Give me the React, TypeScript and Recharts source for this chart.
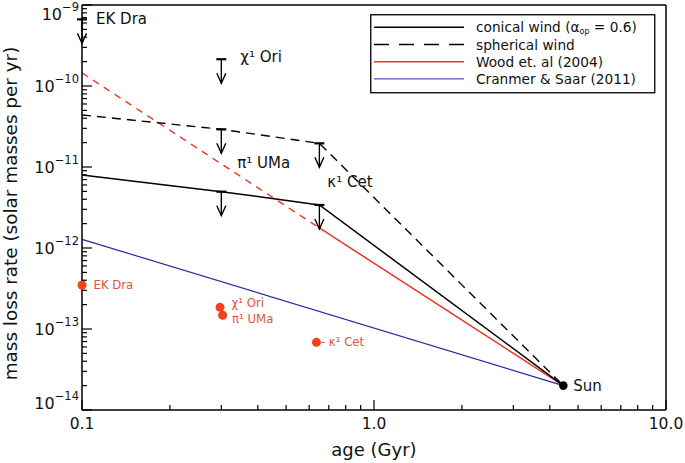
import React from 'react';
import { ComposedChart, Line, Scatter, XAxis, YAxis, Legend } from 'recharts';

// ---------- data (age in Gyr, mass loss rate in solar masses per yr) ----------
const conicalWind = [
  { age: 0.1, rate: 7.96e-12 },
  { age: 0.3, rate: 4.96e-12 },
  { age: 0.65, rate: 3.4e-12 },
  { age: 4.45, rate: 2.0e-14 },
];
const sphericalWind = [
  { age: 0.1, rate: 4.39e-11 },
  { age: 0.3, rate: 2.92e-11 },
  { age: 0.65, rate: 1.96e-11 },
  { age: 4.45, rate: 2.0e-14 },
];
const woodExtrapolated = [
  { age: 0.1, rate: 1.45e-10 },
  { age: 0.65, rate: 1.77e-12 },
];
const woodRelation = [
  { age: 0.65, rate: 1.77e-12 },
  { age: 4.45, rate: 2.0e-14 },
];
const cranmerSaar = [
  { age: 0.1, rate: 1.28e-12 },
  { age: 4.45, rate: 2.0e-14 },
];
const upperLimits = [
  { name: 'EK Dra', age: 0.1, rate: 6.65e-10 },
  { name: 'χ¹ Ori', age: 0.3, rate: 2.14e-10 },
  { name: 'π¹ UMa', age: 0.3, rate: 2.92e-11 },
  { name: '', age: 0.3, rate: 4.96e-12 },
  { name: 'κ¹ Cet', age: 0.65, rate: 1.96e-11 },
  { name: '', age: 0.65, rate: 3.4e-12 },
];
const observedStars = [
  { name: 'EK Dra', age: 0.1, rate: 3.49e-13 },
  { name: 'χ¹ Ori', age: 0.297, rate: 1.85e-13 },
  { name: 'π¹ UMa', age: 0.303, rate: 1.48e-13 },
  { name: '- κ¹ Cet', age: 0.635, rate: 6.85e-14 },
];
const sunPoint = [{ name: 'Sun', age: 4.45, rate: 2.0e-14 }];

const xMajorTicks = [0.1, 1, 10];
const xTickLabels = ['0.1', '1.0', '10.0'];
const xMinorTicks = [0.2, 0.3, 0.4, 0.5, 0.6, 0.7, 0.8, 0.9, 2, 3, 4, 5, 6, 7, 8, 9];
const yExponents = [-14, -13, -12, -11, -10, -9];
const yMinorMultipliers = [2, 3, 4, 5, 6, 7, 8, 9];

const legendItems = [
  { key: 'conical', label: 'conical wind', color: '#000000', dash: undefined, width: 1.5 },
  { key: 'spherical', label: 'spherical wind', color: '#000000', dash: '15 10', width: 1.5 },
  { key: 'wood', label: 'Wood et. al (2004)', color: '#ee3224', dash: undefined, width: 1.5 },
  { key: 'cranmer', label: 'Cranmer & Saar (2011)', color: '#2828a0', dash: undefined, width: 1 },
];

// ---------- derived tick arrays ----------
const xTicks = [...xMajorTicks, ...xMinorTicks].sort((a, b) => a - b);
const yMajorTicks = yExponents.map((e) => Math.pow(10, e));
const yTicks: number[] = [];
yExponents.forEach((e, i) => {
  yTicks.push(Math.pow(10, e));
  if (i < yExponents.length - 1) yMinorMultipliers.forEach((m) => yTicks.push(m * Math.pow(10, e)));
});

// ---------- styles ----------
const FONT = '"DejaVu Sans", Verdana, sans-serif';
const INK = '#111111';
const RED = '#ee3224';
const BLUE = '#2828a0';
const DOT_RED = '#f2411d';
const LABEL_RED = '#d9553c';
const MAJOR_LEN = 10;
const MINOR_LEN = 5;

const limitLabelOffsets: Record<string, [number, number]> = {
  'EK Dra': [14, 0],
  'χ¹ Ori': [19, -2],
  'π¹ UMa': [16, 34],
  'κ¹ Cet': [8, 39],
};
const starLabelOffsets: Record<string, [number, number]> = {
  'EK Dra': [11.5, 0],
  'χ¹ Ori': [11.5, -4],
  'π¹ UMa': [9.5, 4],
  '- κ¹ Cet': [4.5, 0],
};

const isMajorX = (v: number) => xMajorTicks.some((m) => Math.abs(m - v) < 1e-9);
const isMajorY = (v: number) => yMajorTicks.some((m) => Math.abs(m - v) / m < 1e-6);

// ---------- tick renderers ----------
const BottomTick = (props: any) => {
  const { x, y, payload } = props;
  const v = payload.value;
  const major = isMajorX(v);
  const idx = xMajorTicks.findIndex((m) => Math.abs(m - v) < 1e-9);
  return (
    <g>
      <line x1={x} x2={x} y1={y} y2={y - (major ? MAJOR_LEN : MINOR_LEN)} stroke="#000" strokeWidth={1.2} />
      {major && (
        <text x={x} y={y + 19} textAnchor="middle" fontSize={15.5} fontFamily={FONT} fill={INK}>
          {xTickLabels[idx]}
        </text>
      )}
    </g>
  );
};
const TopTick = (props: any) => {
  const { x, y, payload } = props;
  const major = isMajorX(payload.value);
  return <line x1={x} x2={x} y1={y} y2={y + (major ? MAJOR_LEN : MINOR_LEN)} stroke="#000" strokeWidth={1.2} />;
};
const LeftTick = (props: any) => {
  const { x, y, payload } = props;
  const v = payload.value;
  const major = isMajorY(v);
  const exp = Math.round(Math.log10(v));
  let shift = 0;
  if (exp === yExponents[yExponents.length - 1]) shift = 9;
  if (exp === yExponents[0]) shift = -7;
  return (
    <g>
      <line x1={x} x2={x + (major ? MAJOR_LEN : MINOR_LEN)} y1={y} y2={y} stroke="#000" strokeWidth={1.2} />
      {major && (
        <text x={x - 3} y={y + shift + 5.8} textAnchor="end" fontSize={16} fontFamily={FONT} fill={INK}>
          10
          <tspan fontSize={11.5} dy={-8.5}>{`\u2212${Math.abs(exp)}`}</tspan>
        </text>
      )}
    </g>
  );
};
const RightTick = (props: any) => {
  const { x, y, payload } = props;
  const major = isMajorY(payload.value);
  return <line x1={x} x2={x - (major ? MAJOR_LEN : MINOR_LEN)} y1={y} y2={y} stroke="#000" strokeWidth={1.2} />;
};

// ---------- marks ----------
const LimitArrow = (props: any) => {
  const { cx, cy, payload } = props;
  if (cx == null || cy == null) return null;
  const off = limitLabelOffsets[payload.name];
  return (
    <g>
      <line x1={cx - 5} x2={cx + 5} y1={cy} y2={cy} stroke="#000" strokeWidth={2.2} />
      <line x1={cx} x2={cx} y1={cy} y2={cy + 24} stroke="#000" strokeWidth={1.4} />
      <polyline
        points={`${cx - 4.5},${cy + 14} ${cx},${cy + 24} ${cx + 4.5},${cy + 14}`}
        fill="none"
        stroke="#000"
        strokeWidth={1.4}
      />
      {payload.name && off && (
        <text x={cx + off[0]} y={cy + off[1]} dominantBaseline="central" fontSize={15} fontFamily={FONT} fill={INK}>
          {payload.name}
        </text>
      )}
    </g>
  );
};
const StarDot = (props: any) => {
  const { cx, cy, payload } = props;
  if (cx == null || cy == null) return null;
  const off = starLabelOffsets[payload.name] || [10, 0];
  return (
    <g>
      <circle cx={cx} cy={cy} r={4.5} fill={DOT_RED} />
      <text x={cx + off[0]} y={cy + off[1]} dominantBaseline="central" fontSize={11.7} fontFamily={FONT} fill={LABEL_RED}>
        {payload.name}
      </text>
    </g>
  );
};
const SunDot = (props: any) => {
  const { cx, cy, payload } = props;
  if (cx == null || cy == null) return null;
  return (
    <g>
      <circle cx={cx} cy={cy} r={4.3} fill="#000" />
      <text x={cx + 10} y={cy} dominantBaseline="central" fontSize={15} fontFamily={FONT} fill={INK}>
        {payload.name}
      </text>
    </g>
  );
};

const LegendBox = () => (
  <svg width={286} height={80} style={{ display: 'block' }}>
    <rect x={0.75} y={0.75} width={284} height={78} fill="#fff" stroke="#000" strokeWidth={1.3} />
    {legendItems.map((it, i) => {
      const y = 13.3 + i * 17.2;
      return (
        <g key={it.key}>
          <line x1={4} x2={94} y1={y} y2={y} stroke={it.color} strokeWidth={it.width} strokeDasharray={it.dash} />
          <text x={106} y={y} dominantBaseline="central" fontSize={13.7} fontFamily={FONT} fill={INK}>
            {it.label}
            {it.key === 'conical' && (
              <>
                <tspan> (α</tspan>
                <tspan fontSize={8} dy={4}>op</tspan>
                <tspan dy={-4}> = 0.6)</tspan>
              </>
            )}
          </text>
        </g>
      );
    })}
  </svg>
);

const XTitle = (props: any) => {
  const vb = props.viewBox;
  return (
    <text x={vb.x + vb.width / 2} y={vb.y + 46} textAnchor="middle" fontSize={18} fontFamily={FONT} fill={INK}>
      age (Gyr)
    </text>
  );
};
const YTitle = (props: any) => {
  const vb = props.viewBox;
  const cx = vb.x + 17;
  const cy = vb.y + vb.height / 2 + 6;
  return (
    <text x={cx} y={cy} transform={`rotate(-90 ${cx} ${cy})`} textAnchor="middle" fontSize={18.4} fontFamily={FONT} fill={INK}>
      mass loss rate (solar masses per yr)
    </text>
  );
};

export default function App() {
  return (
    <div style={{ position: 'absolute', left: 0, top: 0, width: 685, height: 463, background: '#fff' }}>
      <ComposedChart width={685} height={463} margin={{ top: 0, right: 0, bottom: 0, left: 0 }}>
        <XAxis
          xAxisId="b"
          dataKey="age"
          type="number"
          scale="log"
          domain={[0.1, 10]}
          ticks={xTicks}
          interval={0}
          tickLine={false}
          tickSize={0}
          tickMargin={0}
          height={53}
          axisLine={{ stroke: '#000', strokeWidth: 1.5 }}
          tick={(p: any) => <BottomTick {...p} />}
          label={<XTitle />}
        />
        <XAxis
          xAxisId="t"
          orientation="top"
          dataKey="age"
          type="number"
          scale="log"
          domain={[0.1, 10]}
          ticks={xTicks}
          interval={0}
          tickLine={false}
          tickSize={0}
          tickMargin={0}
          height={5}
          axisLine={{ stroke: '#000', strokeWidth: 1.5 }}
          tick={(p: any) => <TopTick {...p} />}
        />
        <YAxis
          yAxisId="l"
          dataKey="rate"
          type="number"
          scale="log"
          domain={[1e-14, 1e-9]}
          ticks={yTicks}
          interval={0}
          tickLine={false}
          tickSize={0}
          tickMargin={0}
          width={82}
          axisLine={{ stroke: '#000', strokeWidth: 1.5 }}
          tick={(p: any) => <LeftTick {...p} />}
          label={<YTitle />}
        />
        <YAxis
          yAxisId="r"
          orientation="right"
          dataKey="rate"
          type="number"
          scale="log"
          domain={[1e-14, 1e-9]}
          ticks={yTicks}
          interval={0}
          tickLine={false}
          tickSize={0}
          tickMargin={0}
          width={19}
          axisLine={{ stroke: '#000', strokeWidth: 1.5 }}
          tick={(p: any) => <RightTick {...p} />}
        />
        <Legend
          layout="vertical"
          align="center"
          verticalAlign="middle"
          content={() => <LegendBox />}
          wrapperStyle={{ left: 370, top: 14, width: 286, height: 80 }}
        />
        <Line xAxisId="b" yAxisId="l" data={cranmerSaar} dataKey="rate" stroke={BLUE} strokeWidth={1.2} dot={false} isAnimationActive={false} legendType="none" />
        <Line xAxisId="b" yAxisId="l" data={woodExtrapolated} dataKey="rate" stroke={RED} strokeWidth={1.4} strokeDasharray="7 6" dot={false} isAnimationActive={false} legendType="none" />
        <Line xAxisId="b" yAxisId="l" data={woodRelation} dataKey="rate" stroke={RED} strokeWidth={1.5} dot={false} isAnimationActive={false} legendType="none" />
        <Line xAxisId="b" yAxisId="l" data={sphericalWind} dataKey="rate" stroke="#000" strokeWidth={1.4} strokeDasharray="9 6" dot={false} isAnimationActive={false} legendType="none" />
        <Line xAxisId="b" yAxisId="l" data={conicalWind} dataKey="rate" stroke="#000" strokeWidth={1.5} dot={false} isAnimationActive={false} legendType="none" />
        <Scatter xAxisId="b" yAxisId="l" data={upperLimits} dataKey="rate" shape={(p: any) => <LimitArrow {...p} />} isAnimationActive={false} legendType="none" />
        <Scatter xAxisId="b" yAxisId="l" data={observedStars} dataKey="rate" shape={(p: any) => <StarDot {...p} />} isAnimationActive={false} legendType="none" />
        <Scatter xAxisId="b" yAxisId="l" data={sunPoint} dataKey="rate" shape={(p: any) => <SunDot {...p} />} isAnimationActive={false} legendType="none" />
      </ComposedChart>
    </div>
  );
}
